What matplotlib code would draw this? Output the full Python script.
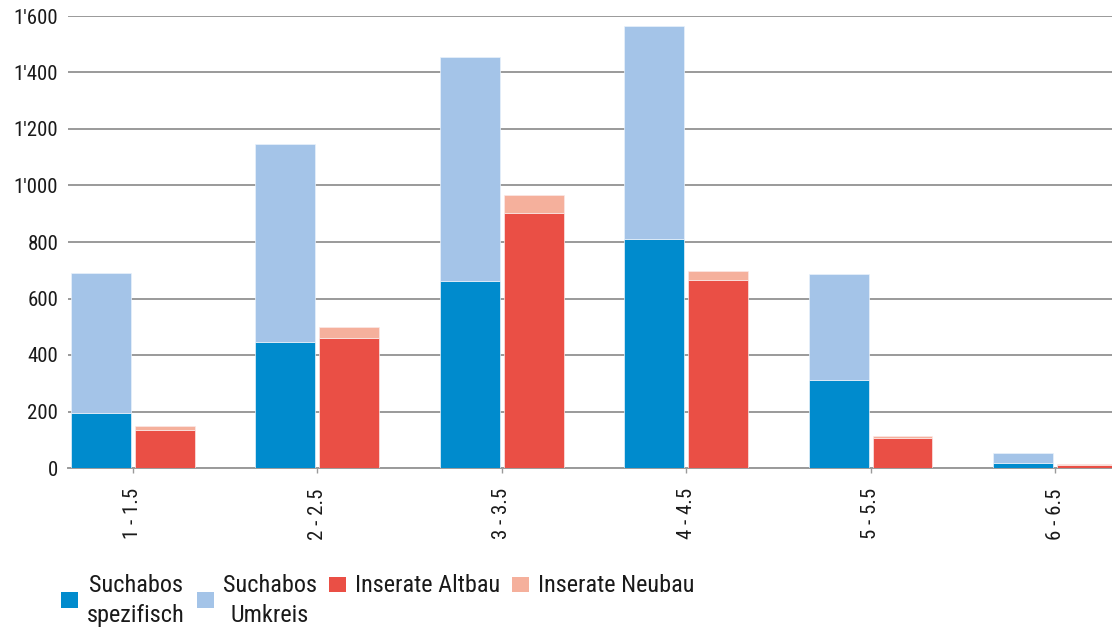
import numpy as np
import matplotlib.pyplot as plt
from matplotlib.ticker import FuncFormatter
from matplotlib.patches import Rectangle

plt.rcParams['font.family'] = ['Roboto Condensed', 'Archivo Narrow', 'DejaVu Sans']

groups = ['1 - 1.5', '2 - 2.5', '3 - 3.5', '4 - 4.5', '5 - 5.5', '6 - 6.5']
abos_spezifisch = [194, 446, 662, 812, 312, 18]
abos_umkreis = [495, 701, 792, 753, 373, 35]
inserate_altbau = [135, 460, 902, 665, 107, 11]
inserate_neubau = [15, 38, 64, 32, 8, 2]

c_spez = '#008bcd'
c_umk = '#a4c4e8'
c_alt = '#ea4f45'
c_neu = '#f5b09c'
txt_col = '#1a1a1a'

W, H = 1112, 629
fig = plt.figure(figsize=(W / 100, H / 100), dpi=100)
ax = fig.add_axes([68 / W, 1 - 468 / H, 1 - 68 / W, (468 - 16) / H])

x = np.arange(len(groups))
w = 0.324
off = 0.173
spez = np.array(abos_spezifisch)
alt = np.array(inserate_altbau)
ax.bar(x - off, spez, w, color=c_spez, edgecolor='#e8f2fb', linewidth=0.5, zorder=3)
ax.bar(x - off, abos_umkreis, w, bottom=spez, color=c_umk, edgecolor='#e8f2fb', linewidth=0.5, zorder=3)
ax.bar(x + off, alt, w, color=c_alt, edgecolor='#fbe8e6', linewidth=0.5, zorder=3)
ax.bar(x + off, inserate_neubau, w, bottom=alt, color=c_neu, edgecolor='#fbe8e6', linewidth=0.5, zorder=3)

ax.set_xlim(-0.351, 5.308)
ax.set_ylim(0, 1600)
ax.set_yticks(np.arange(0, 1601, 200))
ax.yaxis.set_major_formatter(FuncFormatter(lambda v, p: f"{int(v):,}".replace(',', "'")))
ax.grid(axis='y', color='#9a9a9a', linewidth=1.4, zorder=0)
for s in ['top', 'right', 'left']:
    ax.spines[s].set_visible(False)
ax.spines['bottom'].set_color('#9a9a9a')
ax.spines['bottom'].set_linewidth(1.4)
ax.tick_params(axis='y', length=0, pad=7, labelsize=15, labelcolor=txt_col)
ax.set_xticks(x)
ax.set_xticklabels(groups, rotation=90, fontsize=15, color=txt_col, va='top')
ax.tick_params(axis='x', length=3.6, width=1, color='#9a9a9a', pad=11)

# legend drawn by hand: patch, then label lines centred on each other
labels = ['Suchabos\nspezifisch', 'Suchabos\nUmkreis', 'Inserate Altbau', 'Inserate Neubau']
colors = [c_spez, c_umk, c_alt, c_neu]
fig.canvas.draw()
r = fig.canvas.get_renderer()
px = 61
for lab, col in zip(labels, colors):
    lines = lab.split('\n')
    if len(lines) > 1:
        py0, py1 = 592, 608
    else:
        py0, py1 = 577, 592
    fig.add_artist(Rectangle((px / W, 1 - py1 / H), 17 / W, (py1 - py0) / H,
                             transform=fig.transFigure, color=col, lw=0))
    tx = px + 17 + 9
    ts = [fig.text(0, 0, s, fontsize=17.5, color=txt_col, va='baseline') for s in lines]
    widths = [t.get_window_extent(r).width for t in ts]
    wmax = max(widths)
    for i, (t, tw) in enumerate(zip(ts, widths)):
        t.set_position(((tx + (wmax - tw) / 2) / W, 1 - (592 + 30 * i) / H))
    px = tx + wmax + 12

fig.savefig('out.png', dpi=100)
